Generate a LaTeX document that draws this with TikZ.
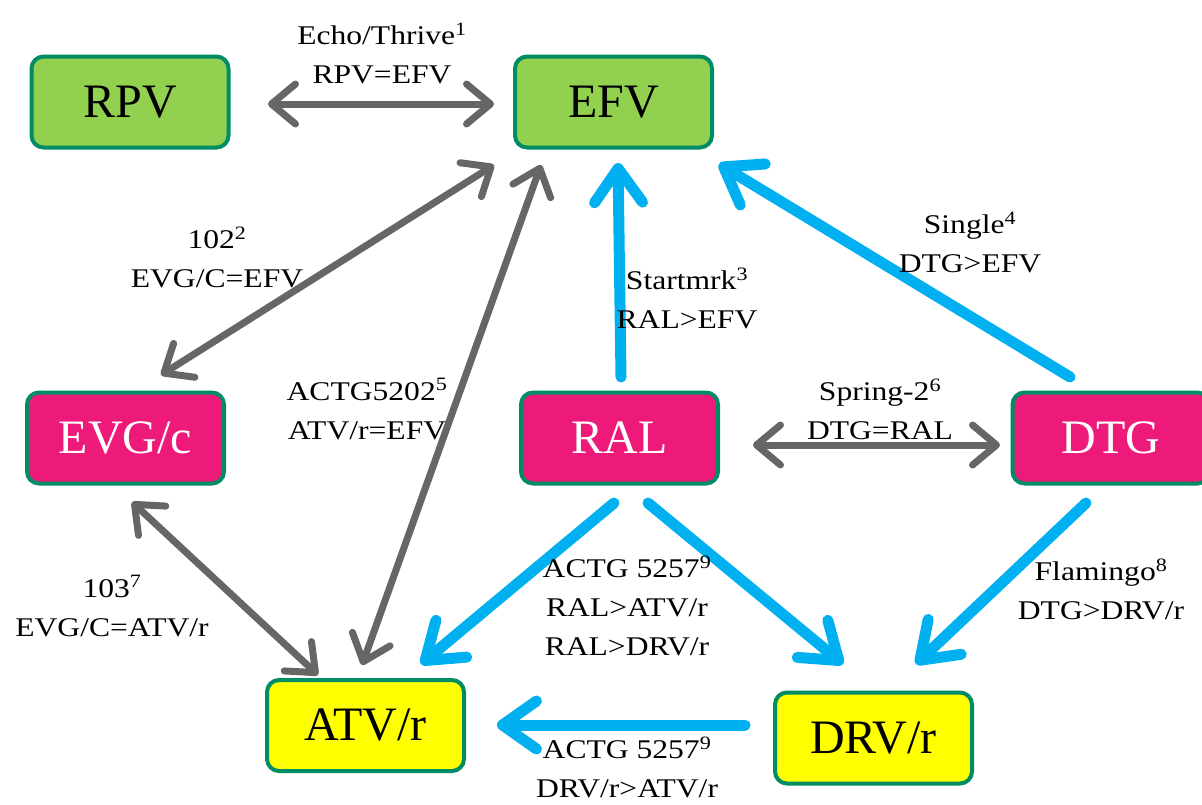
\documentclass[tikz,border=0pt]{standalone}
\usepackage{fontspec}
\setmainfont{Liberation Serif}
\newfontfamily\lblfont{Liberation Serif}[FakeStretch=1.17]
\usepackage{xcolor}
\usetikzlibrary{arrows.meta}
\definecolor{boxrim}{RGB}{0,140,100}
\definecolor{drugG}{RGB}{146,208,80}
\definecolor{drugM}{RGB}{238,26,122}
\definecolor{drugY}{RGB}{255,255,0}
\colorlet{eqcol}{black!60}
\definecolor{supcol}{RGB}{0,176,240}
\tikzstyle{drug}=[draw=boxrim,line width=4pt,rounded corners=12pt,minimum width=197pt,minimum height=91pt,inner sep=0pt,font=\fontsize{48}{48}\selectfont]
\tikzstyle{equiv}=[{Straight Barb[length=24pt,width=40pt,round]}-{Straight Barb[length=24pt,width=40pt,round]},line width=7pt,eqcol]
\tikzstyle{super}=[-{Straight Barb[length=34pt,width=48pt,round]},line width=11pt,supcol]
\tikzstyle{trial}=[align=center,inner sep=0pt,font=\lblfont\fontsize{27}{39}\selectfont]

\begin{document}
\begin{tikzpicture}[x=1pt,y=-1pt,line cap=round]
					\useasboundingbox (0,0) rectangle (1202,804);
					% drugs
					\node[drug,fill=drugG] (RPV) at (130,102) {RPV};
					\node[drug,fill=drugG] (EFV) at (613.5,102) {EFV};
					\node[drug,fill=drugM,text=white] (EVG) at (125.5,438) {EVG/c};
					\node[drug,fill=drugM,text=white] (RAL) at (619.5,438) {RAL};
					\node[drug,fill=drugM,text=white] (DTG) at (1111,438) {DTG};
					\node[drug,fill=drugY] (ATV) at (365.5,725.5) {ATV/r};
					\node[drug,fill=drugY] (DRV) at (873.5,738) {DRV/r};
					% arrow ends
					\coordinate (A1) at (268,104);
					\coordinate (A2) at (494,104);
					\coordinate (B1) at (494,165);
					\coordinate (B2) at (161,375);
					\coordinate (C1) at (541,165);
					\coordinate (C2) at (362,665);
					\coordinate (D1) at (132,502);
					\coordinate (D2) at (318,675);
					\coordinate (E1) at (753,445);
					\coordinate (E2) at (1000,445);
					\coordinate (F1) at (621,377);
					\coordinate (F2) at (618,163);
					\coordinate (G1) at (1070,377);
					\coordinate (G2) at (719,164);
					\coordinate (H1) at (614,503);
					\coordinate (H2) at (421,664);
					\coordinate (I1) at (648,503);
					\coordinate (I2) at (843,664);
					\coordinate (J1) at (1086,503);
					\coordinate (J2) at (916,664);
					\coordinate (K1) at (745,725);
					\coordinate (K2) at (497,725);
					\draw[equiv] (A1) -- (A2);
					\draw[equiv] (B1) -- (B2);
					\draw[equiv] (C1) -- (C2);
					\draw[equiv] (D1) -- (D2);
					\draw[equiv] (E1) -- (E2);
					\draw[super] (F1) -- (F2);
					\draw[super] (G1) -- (G2);
					\draw[super] (H1) -- (H2);
					\draw[super] (I1) -- (I2);
					\draw[super] (J1) -- (J2);
					\draw[super] (K1) -- (K2);
					% trials
					\node[trial] (echo) at (382,53) {Echo/Thrive\textsuperscript{1}\\RPV=EFV};
					\node[trial] (s102) at (217,257) {102\textsuperscript{2}\\EVG/C=EFV};
					\node[trial] (a5202) at (367,409) {ACTG5202\textsuperscript{5}\\ATV/r=EFV};
					\node[trial] (start) at (687,298) {Startmrk\textsuperscript{3}\\RAL>EFV};
					\node[trial] (single) at (970,242) {Single\textsuperscript{4}\\DTG>EFV};
					\node[trial] (spring) at (880,409) {Spring-2\textsuperscript{6}\\DTG=RAL};
					\node[trial] (s103) at (112,606) {103\textsuperscript{7}\\EVG/C=ATV/r};
					\node[trial] (a5257) at (627,606) {ACTG 5257\textsuperscript{9}\\RAL>ATV/r\\RAL>DRV/r};
					\node[trial] (flam) at (1101,589) {Flamingo\textsuperscript{8}\\DTG>DRV/r};
					\node[trial] (b5257) at (627,767) {ACTG 5257\textsuperscript{9}\\DRV/r>ATV/r};
				\end{tikzpicture}
\end{document}
